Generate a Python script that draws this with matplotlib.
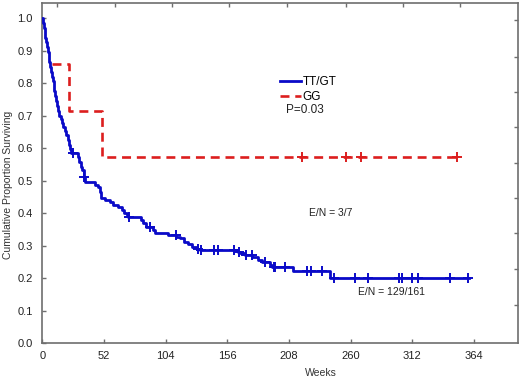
import numpy as np
import matplotlib
matplotlib.use("Agg")
import matplotlib.pyplot as plt

plt.rcParams['font.family'] = ['Liberation Sans', 'DejaVu Sans']

# TT/GT group: event times (weeks) and survival after each drop
tt_times = [0.5, 1.2, 1.8, 2.5, 3.2, 3.8, 4.5, 5.2, 5.8, 6.5, 7.2, 7.8, 8.6, 9.4,
            10.2, 10.9, 11.6, 12.4, 13.2, 14.0, 15.3, 16.5, 17.8, 19.0, 20.2,
            21.3, 22.3, 23.3, 24.1, 29.8, 31.1, 32.3, 33.2, 35.1, 36.0, 44.4,
            47.2, 48.6, 49.5, 52.8, 57.0, 59.8, 64.0, 66.9, 68.5, 71.0, 72.5,
            83.0, 85.0, 87.0, 93.6, 95.0, 106.0, 113.0, 116.0, 119.0, 123.0,
            126.0, 130.0, 133.0, 165.0, 167.0, 171.0, 177.0, 182.0, 185.0,
            192.0, 194.0, 211.7, 242.7]
tt_surv = [0.985, 0.97, 0.955, 0.94, 0.925, 0.91, 0.895, 0.88, 0.865, 0.85,
           0.835, 0.82, 0.805, 0.79, 0.775, 0.76, 0.745, 0.73, 0.715, 0.70,
           0.688, 0.676, 0.664, 0.652, 0.64, 0.625, 0.61, 0.597, 0.584, 0.573,
           0.558, 0.542, 0.532, 0.512, 0.496, 0.486, 0.481, 0.466, 0.445, 0.44,
           0.435, 0.425, 0.42, 0.41, 0.40, 0.394, 0.389, 0.38, 0.368, 0.358,
           0.348, 0.338, 0.332, 0.327, 0.322, 0.312, 0.305, 0.296, 0.290,
           0.286, 0.281, 0.276, 0.271, 0.266, 0.255, 0.25, 0.24, 0.233, 0.222,
           0.200]
tt_censor = [25.7, 35.4, 73.0, 90.8, 112.5, 131.0, 133.5, 145.0, 148.4, 161.2,
             165.5, 171.5, 176.6, 187.8, 194.9, 196.3, 204.7, 223.0, 226.4,
             235.7, 246.0, 263.8, 275.0, 300.3, 303.2, 311.6, 316.4, 344.0,
             358.6]
tt_end = 359.4

# GG group (curve is drawn from its first drop on)
gg_times = [8.0, 22.7, 50.5]
gg_surv = [0.857, 0.714, 0.571]
gg_censor = [219.3, 256.2, 268.9, 349.6]
gg_end = 349.6

x_ticks = [0, 52, 104, 156, 208, 260, 312, 364]
y_ticks = [0.0, 0.1, 0.2, 0.3, 0.4, 0.5, 0.6, 0.7, 0.8, 0.9, 1.0]


def km_curve(times, surv, end, from_start=True):
    if from_start:
        t = np.array([0.0] + list(times) + [end])
        s = np.array([1.0] + list(surv) + [surv[-1]])
    else:
        t = np.array(list(times) + [end])
        s = np.array(list(surv) + [surv[-1]])
    return t, s


def at(times, surv, ct):
    t = np.array([0.0] + list(times))
    s = np.array([1.0] + list(surv))
    idx = np.searchsorted(t, ct, side='right') - 1
    return s[idx]


blue = '#0a0ac8'
red = '#dc1e1e'
grey = '#6e6e6e'

fig = plt.figure(figsize=(5.2, 3.82), dpi=100)
ax = fig.add_axes([0.0815, 0.102, 0.9145, 0.890])

t, s = km_curve(tt_times, tt_surv, tt_end)
ax.step(t, s, where='post', color=blue, lw=2.0, label='TT/GT', zorder=3)
ax.plot(tt_censor, at(tt_times, tt_surv, np.array(tt_censor)), ls='none',
        marker='+', ms=6.5, mew=1.4, color=blue, zorder=4)

t, s = km_curve(gg_times, gg_surv, gg_end, from_start=False)
ax.step(t, s, where='post', color=red, lw=1.9, ls=(0, (3.4, 2.2)),
        label='GG', zorder=2)
ax.plot(gg_censor, at(gg_times, gg_surv, np.array(gg_censor)), ls='none',
        marker='+', ms=6.5, mew=1.4, color=red, zorder=4)

ax.set_xlim(0, 401)
ax.set_ylim(0, 1.046)
ax.set_xticks(x_ticks)
ax.set_yticks(y_ticks)
ax.set_yticklabels(['%.1f' % v for v in y_ticks])
ax.tick_params(direction='in', length=3, width=1, color=grey,
               labelsize=8, pad=6, labelcolor='#222222')
ax.tick_params(axis='y', pad=7)
for sp in ax.spines.values():
    sp.set_color(grey)
    sp.set_linewidth(1.2)

# odd tick marks along top and right edges
axt = ax.twiny()
axt.set_xlim(ax.get_xlim())
axt.set_xticks([12.3, 61.3, 109.4, 157.5, 206.4, 256.0, 304.3, 352.4])
axt.tick_params(direction='in', length=3, width=1, color=grey, labeltop=False)
axr = ax.twinx()
axr.set_ylim(ax.get_ylim())
axr.set_yticks([0.117, 0.228, 0.338, 0.446, 0.554, 0.664, 0.772, 0.88, 0.994])
axr.tick_params(direction='in', length=3, width=1, color=grey, labelright=False)
for a in (axt, axr):
    for sp in a.spines.values():
        sp.set_visible(False)

ax.set_xlabel('Weeks', fontsize=7.5, color='#333333')
ax.xaxis.set_label_coords(0.586, -0.072)
ax.set_ylabel('Cumulative Proportion Surviving', fontsize=7.5,
              color='#333333')
ax.yaxis.set_label_coords(-0.062, 0.465)

leg = ax.legend(loc='upper left', bbox_to_anchor=(0.49, 0.80), frameon=False,
                fontsize=8.5, handlelength=1.75, handletextpad=0.15,
                labelspacing=0.25, borderaxespad=0)
ax.text(0.512, 0.685, 'P=0.03', transform=ax.transAxes, fontsize=8.5,
        color='#222222', va='center', ha='left')
ax.text(242.7, 0.40, 'E/N = 3/7', fontsize=7.5, color='#222222',
        ha='center', va='center')
ax.text(294, 0.158, 'E/N = 129/161', fontsize=7.5, color='#222222',
        ha='center', va='center')

fig.savefig('out.png', dpi=100)
